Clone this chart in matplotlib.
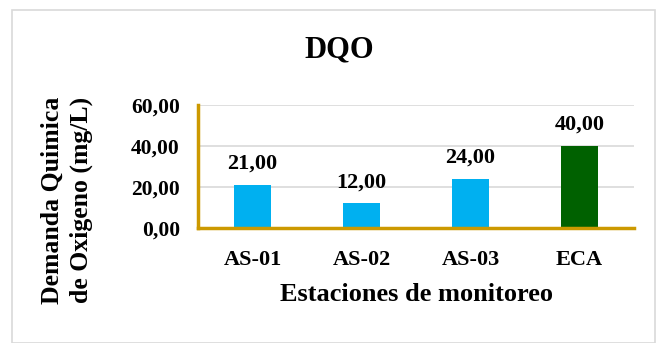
import matplotlib
matplotlib.use('Agg')
import matplotlib.pyplot as plt
from matplotlib.patches import Rectangle

# data
estaciones = ['AS-01', 'AS-02', 'AS-03', 'ECA']
dqo = [21.0, 12.0, 24.0, 40.0]
colores = ['#00B0F0', '#00B0F0', '#00B0F0', '#006100']
yticks = [0, 20, 40, 60]

plt.rcParams['font.family'] = 'Liberation Serif'
plt.rcParams['font.weight'] = 'bold'

fig = plt.figure(figsize=(6.67, 3.43), dpi=100)
ax = fig.add_axes([198/667, 1 - 228/343, (634 - 198)/667, (228 - 105)/343])

x = range(len(estaciones))
bars = ax.bar(x, dqo, width=0.34, color=colores, zorder=3)

for xi, v in zip(x, dqo):
    ax.annotate('{:.2f}'.format(v).replace('.', ','), (xi, v),
                xytext=(0, 8), textcoords='offset points',
                ha='center', va='bottom', fontsize=16, fontweight='bold')

ax.set_xlim(-0.5, 3.5)
ax.set_ylim(0, 60)
ax.set_yticks(yticks)
ax.set_yticklabels(['{:.2f}'.format(t).replace('.', ',') for t in yticks],
                   fontsize=15.5, fontweight='bold')
ax.set_xticks(list(x))
ax.set_xticklabels(estaciones, fontsize=16, fontweight='bold')
ax.tick_params(axis='y', length=0, pad=13)
ax.tick_params(axis='x', length=0, pad=16)

ax.grid(axis='y', color='#D9D9D9', linewidth=1.2, zorder=0)
for s in ['top', 'right']:
    ax.spines[s].set_visible(False)
for s in ['left', 'bottom']:
    ax.spines[s].set_color('#CC9900')
    ax.spines[s].set_linewidth(2.5)
    ax.spines[s].set_zorder(4)

ax.set_xlabel('Estaciones de monitoreo', fontsize=19, fontweight='bold', labelpad=9)

fig.text(339/667, 1 - 50/343, 'DQO', ha='center', va='center',
         fontsize=22, fontweight='bold')
fig.text(67/667, 1 - 200/343, 'Demanda Quimica\nde Oxigeno (mg/L)', rotation=90,
         ha='center', va='center', multialignment='center',
         fontsize=18.5, fontweight='bold', linespacing=1.35)

fig.patches.append(Rectangle((12/667, 0), (655 - 12)/667, 1 - 10/343,
                             transform=fig.transFigure, fill=False,
                             edgecolor='#D9D9D9', linewidth=1.2))

plt.savefig('out.png', dpi=100)
